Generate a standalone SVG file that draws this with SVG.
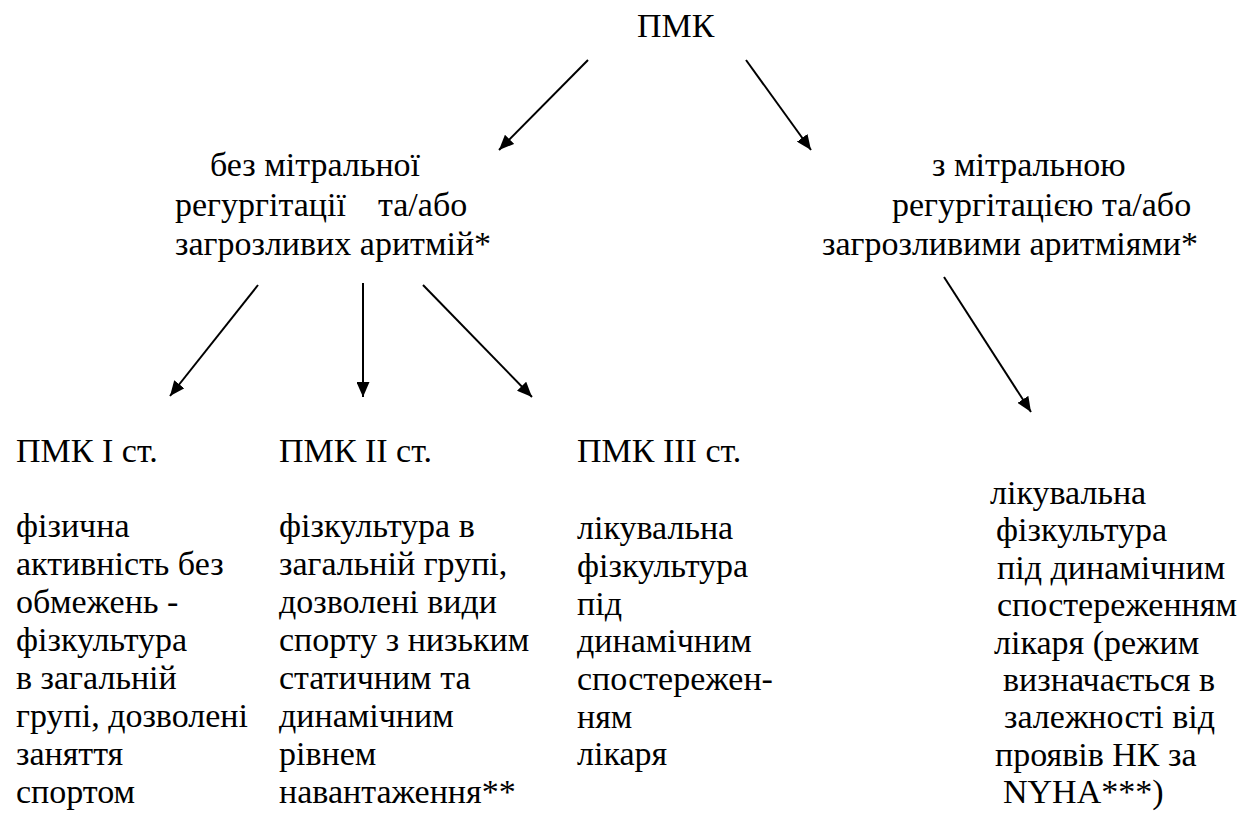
<svg xmlns="http://www.w3.org/2000/svg" width="1243" height="840" viewBox="0 0 1243 840">
<style>
  .t { font-family: Tinos, 'Liberation Serif', 'Times New Roman', Times, 'DejaVu Serif', 'Noto Serif', FreeSerif, serif; font-size: 34px; fill: #000; }
  .conn { stroke: #000; stroke-width: 2; fill: none; marker-end: url(#arr); }
</style>
<defs>
  <marker id="arr" markerUnits="userSpaceOnUse" markerWidth="16" markerHeight="13" refX="15" refY="6.5" orient="auto">
    <path d="M0,0 L15,6.5 L0,13 Z" fill="#000"/>
  </marker>
</defs>
<rect width="1243" height="840" fill="#fff"/>

<g id="connectors">
  <line class="conn" x1="588" y1="60" x2="499" y2="150"/>
  <line class="conn" x1="746" y1="60" x2="811" y2="150"/>
  <line class="conn" x1="258" y1="285" x2="170" y2="396"/>
  <line class="conn" x1="363" y1="283" x2="363" y2="397"/>
  <line class="conn" x1="423" y1="285" x2="532" y2="397"/>
  <line class="conn" x1="944" y1="277" x2="1031" y2="412"/>
</g>

<g class="t">
<g id="root">
  <text class="t" x="637" y="37">ПМК</text>
</g>

<g id="without">
  <text class="t" x="210" y="176">без мітральної</text>
  <text class="t" x="175" y="216">регургітації</text>
  <text class="t" x="378" y="216">та/або</text>
  <text class="t" x="175" y="255">загрозливих аритмій*</text>
</g>

<g id="with">
  <text class="t" x="932" y="176">з мітральною</text>
  <text class="t" x="892" y="216">регургітацією та/або</text>
  <text class="t" x="822" y="255">загрозливими аритміями*</text>
</g>

<g id="grade1">
  <text class="t" x="16" y="462">ПМК I ст.</text>
  <text class="t" x="16" y="537">фізична</text>
  <text class="t" x="16" y="575">активність без</text>
  <text class="t" x="16" y="613">обмежень -</text>
  <text class="t" x="16" y="651">фізкультура</text>
  <text class="t" x="16" y="689">в загальній</text>
  <text class="t" x="16" y="727">групі, дозволені</text>
  <text class="t" x="16" y="765">заняття</text>
  <text class="t" x="16" y="803">спортом</text>
</g>

<g id="grade2">
  <text class="t" x="279" y="462">ПМК II ст.</text>
  <text class="t" x="279" y="537">фізкультура в</text>
  <text class="t" x="279" y="575">загальній групі,</text>
  <text class="t" x="279" y="613">дозволені види</text>
  <text class="t" x="279" y="651">спорту з низьким</text>
  <text class="t" x="279" y="689">статичним та</text>
  <text class="t" x="279" y="727">динамічним</text>
  <text class="t" x="279" y="765">рівнем</text>
  <text class="t" x="279" y="803">навантаження**</text>
</g>

<g id="grade3">
  <text class="t" x="577" y="462">ПМК III ст.</text>
  <text class="t" x="577" y="539">лікувальна</text>
  <text class="t" x="577" y="577">фізкультура</text>
  <text class="t" x="577" y="615">під</text>
  <text class="t" x="577" y="652">динамічним</text>
  <text class="t" x="577" y="690">спостережен-</text>
  <text class="t" x="577" y="728">ням</text>
  <text class="t" x="577" y="765">лікаря</text>
</g>

<g id="therapy">
  <text class="t" x="990" y="504">лікувальна</text>
  <text class="t" x="996" y="541">фізкультура</text>
  <text class="t" x="997" y="579">під динамічним</text>
  <text class="t" x="997" y="616">спостереженням</text>
  <text class="t" x="994" y="654">лікаря (режим</text>
  <text class="t" x="1003" y="691">визначається в</text>
  <text class="t" x="1004" y="728">залежності від</text>
  <text class="t" x="995" y="766">проявів НК за</text>
  <text class="t" x="1003" y="803">NYHA***)</text>
</g>
</g>
</svg>
